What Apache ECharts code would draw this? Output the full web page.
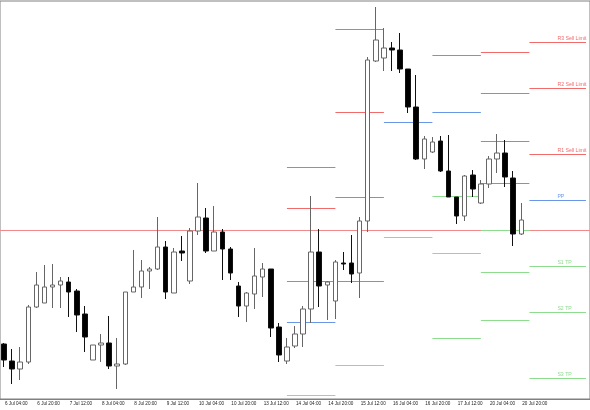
<!DOCTYPE html>
<html>
<head>
<meta charset="utf-8">
<script src="https://cdn.jsdelivr.net/npm/echarts@6/dist/echarts.min.js"></script>
<style>
  html, body { margin: 0; padding: 0; background: #fff; }
  #main { width: 590px; height: 410px; }
</style>
</head>
<body>
<div id="main"></div>
<script>
// H4 bars, 6 Jul 04:00 .. 20 Jul 20:00, then a few empty future bars
const days = ["6 Jul", "7 Jul", "8 Jul", "9 Jul", "10 Jul", "13 Jul", "14 Jul",
  "15 Jul", "16 Jul", "17 Jul", "20 Jul", "21 Jul", "22 Jul"];
const hours = ["00:00", "04:00", "08:00", "12:00", "16:00", "20:00"];
const lastBar = 64;

// [open, close, low, high]
const candles = [
  [56, 40, 33, 57], [39, 31, 16, 51], [31, 38, 20, 53], [38, 93, 36, 95],
  [93, 115, 92, 128], [97, 113, 97, 135], [113, 115, 92, 136], [115, 119, 92, 123],
  [118, 108, 83, 123], [109, 85, 68, 111], [86, 63, 48, 94], [40, 55, 40, 55],
  [55, 57, 38, 66], [57, 34, 31, 84], [34, 36, 11, 62], [36, 108, 35, 108],
  [108, 113, 108, 150], [113, 129, 102, 140], [129, 131, 111, 133], [131, 153, 130, 183],
  [153, 108, 101, 159], [107, 148, 107, 152], [149, 147, 139, 164], [119, 169, 116, 172],
  [169, 183, 165, 217], [182, 149, 147, 192], [149, 168, 149, 194], [168, 151, 120, 171],
  [151, 127, 120, 153], [114, 94, 83, 118], [94, 107, 78, 108], [106, 124, 91, 152],
  [123, 131, 103, 137], [131, 72, 63, 131], [73, 45, 38, 77], [39, 53, 36, 62],
  [54, 66, 52, 74], [66, 91, 53, 94], [91, 148, 77, 204], [148, 114, 93, 171],
  [115, 118, 80, 119], [99, 138, 81, 140], [137, 136, 130, 148], [137, 126, 117, 165],
  [127, 179, 102, 183], [179, 340, 168, 343], [339, 360, 338, 393], [342, 352, 329, 372],
  [352, 350, 329, 358], [350, 331, 327, 367], [331, 293, 287, 331], [293, 241, 240, 325],
  [241, 261, 231, 264], [248, 258, 247, 263], [259, 229, 228, 264], [229, 203, 203, 265],
  [203, 184, 176, 203], [184, 224, 179, 225], [225, 211, 203, 230], [197, 216, 196, 220],
  [216, 241, 212, 244], [241, 247, 227, 266], [247, 223, 213, 260], [222, 166, 154, 229],
  [166, 180, 165, 197]
];

// daily pivot levels (null = off chart)
const pivotStart = ["14 Jul 00:00", "15 Jul 00:00", "16 Jul 00:00", "17 Jul 00:00", "20 Jul 00:00", "21 Jul 00:00"];
const pivotEnd = ["15 Jul 00:00", "16 Jul 00:00", "17 Jul 00:00", "20 Jul 00:00", "21 Jul 00:00", "22 Jul 04:00"];
const r3 = [233, 371, null, null, 348, 358];
const r2 = [192, 288, null, null, 307, 312];
const r1 = [119, 203, null, 345, 259, 246];
const pp = [78, 119, 278, 288, 217, 200];
const s1 = [5, 35, 163, 204, 170, 134];
const s2 = [null, null, null, 147, 128, 88];
const s3 = [null, null, null, 62, 80, 22];
const levelLine = 169.5;

const levelNames = ["R3 Sell Limit", "R2 Sell Limit", "R1 Sell Limit", "PP", "S1 TP", "S2 TP", "S3 TP"];

const red = "#f26b6b";
const blue = "#6a96e8";
const green = "#8edc8e";

const cats = [];
days.forEach(function (d) {
  hours.forEach(function (h) { cats.push(d + " " + h); });
});
cats.shift(); // starts at 04:00
cats.length = 73;

const showTick = function (index) {
  return index <= lastBar && index % 4 === 0;
};

const lines = [];
// horizontal line across the whole chart
lines.push({ yAxis: levelLine, lineStyle: { color: "#ef8a8a" } });
const levels = [r3, r2, r1, pp, s1, s2, s3];
const levelColors = [red, red, red, blue, green, green, green];
levels.forEach(function (arr, k) {
  arr.forEach(function (v, i) {
    if (v == null) return;
    const last = i === pivotStart.length - 1;
    lines.push([
      {
        coord: [pivotStart[i], v],
        lineStyle: { color: levelColors[k] },
        label: last ? {
          show: true,
          formatter: levelNames[k],
          position: "insideStartTop",
          distance: [28, 1],
          color: levelColors[k],
          fontSize: 5.2,
          fontFamily: "Liberation Sans"
        } : { show: false }
      },
      { coord: [pivotEnd[i], v] }
    ]);
  });
});

const chart = echarts.init(document.getElementById("main"));
chart.setOption({
  animation: false,
  grid: {
    left: -2,
    right: -6.2,
    top: 1,
    bottom: 11,
    show: true,
    borderColor: "#808080",
    borderWidth: 1
  },
  xAxis: {
    type: "category",
    data: cats,
    boundaryGap: true,
    axisLine: { lineStyle: { color: "#808080" } },
    axisTick: {
      alignWithLabel: true,
      interval: showTick,
      length: 3,
      lineStyle: { color: "#555" }
    },
    axisLabel: {
      interval: showTick,
      align: "left",
      margin: 2,
      padding: [0, 0, 0, 1],
      fontSize: 4.6,
      fontFamily: "Liberation Sans",
      color: "#222"
    },
    splitLine: { show: false }
  },
  yAxis: {
    type: "value",
    min: 1,
    max: 399,
    show: false,
    splitLine: { show: false }
  },
  series: [
    {
      type: "candlestick",
      data: candles,
      barWidth: 5,
      itemStyle: {
        color: "#ffffff",
        color0: "#000000",
        borderColor: "#666666",
        borderColor0: "#111111",
        borderWidth: 1
      },
      markLine: {
        z: 1,
        silent: true,
        symbol: "none",
        animation: false,
        lineStyle: { type: "solid", width: 1 },
        label: { show: false },
        emphasis: { disabled: true },
        data: lines
      }
    }
  ]
});
</script>
</body>
</html>
